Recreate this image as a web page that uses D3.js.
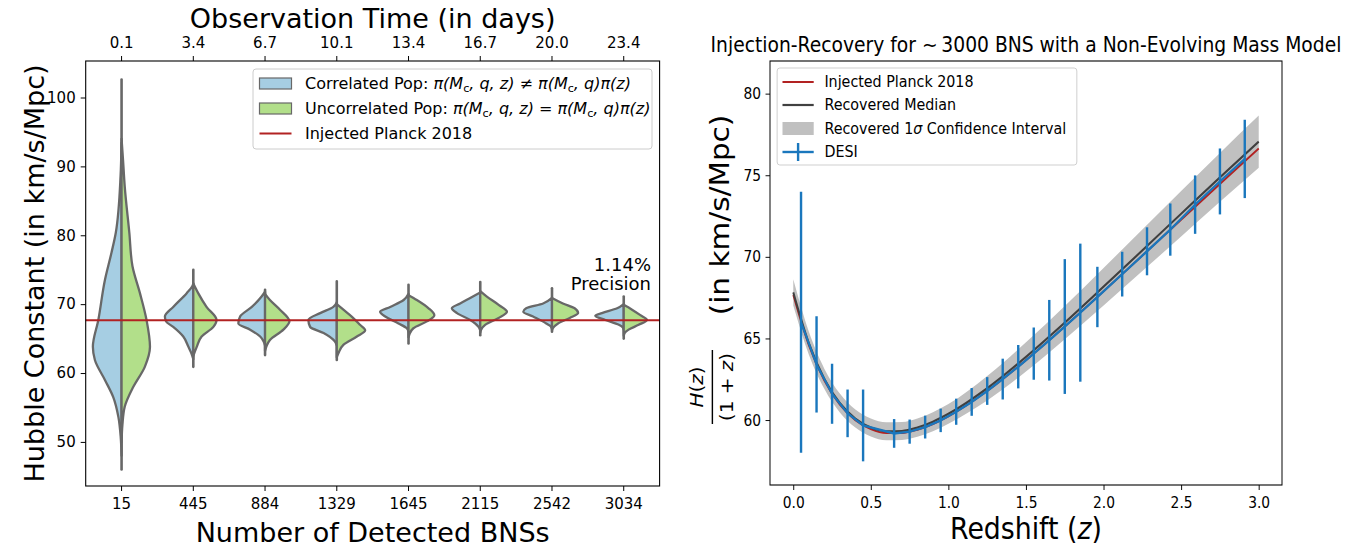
<!DOCTYPE html>
<html>
<head>
<meta charset="utf-8">
<script src="https://cdn.jsdelivr.net/npm/d3@7"></script>
<style>
  body { margin: 0; background: #fff; }
  svg text { font-family: "DejaVu Sans", sans-serif; fill: #000; }
</style>
</head>
<body>
<svg id="fig" width="1354" height="549"></svg>
<script>
// ---------- left panel: violins ----------
var bnsCounts = ["15", "445", "884", "1329", "1645", "2115", "2542", "3034"];
var obsDays = ["0.1", "3.4", "6.7", "10.1", "13.4", "16.7", "20.0", "23.4"];
var h0Ticks = [50, 60, 70, 80, 90, 100];
var planckH0 = 67.66;

// each half: [H0, relative density] from top to bottom
var corrHalf = [
  [[93.4,0],[88.6,0.035],[80.4,0.2],[77.5,0.35],[73.5,0.58],[67.7,0.81],[63.8,1.0],[61.9,0.93],[59.0,0.58],[56.5,0.29],[53.6,0.11],[50.7,0.03],[48,0]],
  [[73,0],[72.6,0.035],[71.6,0.23],[69.6,0.7],[68.2,0.99],[67.5,0.95],[66.7,0.7],[65.3,0.35],[63.8,0.17],[62.9,0.07],[62,0]],
  [[71.8,0],[71.1,0.12],[69.6,0.46],[68.2,0.87],[67.2,0.93],[66.3,0.52],[65.3,0.17],[64.6,0.05],[64,0]],
  [[70.3,0],[69.6,0.12],[68.7,0.58],[67.7,0.99],[66.7,0.93],[65.8,0.46],[64.6,0.07],[64,0]],
  [[71.5,0],[70.6,0.17],[69.6,0.64],[68.9,0.99],[68.2,0.81],[67.2,0.35],[66.5,0.06],[66,0]],
  [[71.7,0],[70.9,0.35],[70.1,0.7],[69.4,0.99],[68.7,0.81],[67.7,0.35],[66.7,0.06],[66.2,0]],
  [[70.9,0],[70.1,0.31],[69.4,0.9],[68.9,1.0],[68.2,0.66],[67.2,0.2],[66.8,0.05],[66.4,0]],
  [[70.0,0],[69.4,0.23],[68.7,0.76],[68.3,0.99],[67.7,0.64],[67.0,0.17],[66.6,0.03],[66.3,0]]
];
var uncorrHalf = [
  [[94,0],[91.0,0.05],[87.1,0.11],[80.4,0.27],[75.5,0.38],[71.6,0.64],[67.7,0.87],[63.8,0.99],[60.9,0.81],[58.0,0.41],[55.1,0.11],[52.5,0.03],[50,0]],
  [[73,0],[71.6,0.17],[69.6,0.46],[67.7,0.81],[66.7,0.7],[65.3,0.29],[63.8,0.12],[62.5,0]],
  [[71.5,0],[70.6,0.17],[69.2,0.52],[67.5,0.85],[66.3,0.64],[64.8,0.17],[64.0,0.06],[63.2,0]],
  [[70,0],[69.2,0.23],[68.2,0.52],[67.0,0.81],[66.2,0.99],[65.3,0.7],[64.1,0.23],[62.9,0.06],[62.3,0]],
  [[71.3,0],[70.6,0.29],[69.4,0.7],[68.4,0.9],[67.5,0.64],[66.5,0.17],[65.6,0.03],[65.2,0]],
  [[71.9,0],[71.1,0.23],[69.9,0.64],[68.9,0.93],[68.0,0.64],[67.0,0.17],[66.3,0.03],[65.9,0]],
  [[70.9,0],[70.1,0.38],[69.4,0.79],[68.7,0.91],[68.0,0.62],[67.2,0.21],[66.5,0.03],[66.2,0]],
  [[69.9,0],[69.2,0.29],[68.4,0.58],[67.7,0.81],[67.0,0.52],[66.3,0.17],[65.8,0.03],[65.4,0]]
];
var stickTop = [102.6, 75.0, 72.1, 73.3, 72.8, 73.2, 72.3, 71.1];
var stickBottom = [46.0, 60.9, 62.6, 61.9, 64.3, 65.5, 66.0, 65.0];

// ---------- right panel: H(z)/(1+z) ----------
var zGrid = [0, 0.1, 0.2, 0.3, 0.4, 0.5, 0.6, 0.7, 0.8, 0.9, 1.0, 1.25, 1.5, 1.75, 2.0, 2.25, 2.5, 2.75, 3.0];
var injectedH = [67.66, 64.59, 62.42, 60.94, 59.99, 59.44, 59.20, 59.21, 59.41, 59.76, 60.23, 61.78, 63.67, 65.73, 67.89, 70.08, 72.28, 74.47, 76.64];
var medianH = [67.82, 64.72, 62.53, 61.04, 60.09, 59.54, 59.31, 59.33, 59.54, 59.90, 60.38, 61.95, 63.87, 65.97, 68.17, 70.40, 72.64, 74.87, 77.06];
var bandLow = [67.02, 64.02, 61.91, 60.46, 59.54, 58.99, 58.76, 58.78, 58.98, 59.32, 59.78, 61.20, 62.97, 64.95, 67.02, 69.13, 71.24, 73.37, 75.46];
var bandHigh = [68.62, 65.42, 63.15, 61.62, 60.64, 60.09, 59.86, 59.88, 60.10, 60.48, 60.98, 62.70, 64.77, 66.99, 69.32, 71.67, 74.04, 76.37, 78.66];

var desiZ = [0.05, 0.15, 0.25, 0.35, 0.45, 0.65, 0.75, 0.85, 0.95, 1.05, 1.15, 1.25, 1.35, 1.45, 1.55, 1.65, 1.75, 1.85, 1.96, 2.12, 2.28, 2.43, 2.59, 2.75, 2.91];
var desiH = [65.99, 63.41, 61.61, 60.41, 59.67, 59.18, 59.29, 59.57, 59.98, 60.51, 61.11, 61.78, 62.51, 63.27, 64.07, 64.89, 65.73, 66.58, 67.54, 68.94, 70.34, 71.67, 73.2, 74.62, 76.0];
var desiErr = [8.0, 2.95, 1.84, 1.46, 2.2, 0.88, 0.74, 0.7, 0.72, 0.8, 0.85, 0.85, 1.25, 1.33, 1.6, 2.47, 4.13, 4.23, 1.85, 1.37, 1.47, 1.6, 1.79, 2.02, 2.4];
var zTicks = [0, 0.5, 1.0, 1.5, 2.0, 2.5, 3.0];
var hTicks = [60, 65, 70, 75, 80];

var corrColor = "#a6cee3", uncorrColor = "#b2df8a", edgeColor = "#686868";
var planckColor = "#b22222", medianColor = "#404040", bandColor = "#c0c0c0", desiColor = "#1a77bd";

var svg = d3.select("#fig");

function styleAxis(g, size) {
  g.select(".domain").remove();
  g.selectAll(".tick line").attr("stroke", "#000").attr("stroke-width", 1);
  g.selectAll(".tick text").attr("font-size", size).attr("font-family", "DejaVu Sans").attr("fill", "#000");
}

// small helper for text with italic / subscript pieces
function richText(sel, parts) {
  parts.forEach(function (p) {
    var t = sel.append("tspan").text(p.t);
    if (p.i) t.attr("font-style", "italic");
    if (p.sub) t.attr("font-size", "0.7em").attr("dy", p.sub);
    if (p.dy) t.attr("dy", p.dy);
  });
  return sel;
}

// ================= LEFT =================
var L = { left: 85.7, right: 659.6, top: 61, bottom: 486 };
var xL = d3.scaleBand().domain(bnsCounts).range([L.left, L.right]);
var yL = d3.scaleLinear().domain([43.6, 105.3]).range([L.bottom, L.top]);
var wL = d3.scaleLinear().domain([0, 1]).range([0, xL.bandwidth() * 0.4]);

function halfPath(cx, sign) {
  return d3.area().curve(d3.curveMonotoneY)
    .y(function (d) { return yL(d[0]); })
    .x0(cx)
    .x1(function (d) { return cx + sign * wL(d[1]); });
}

var violins = svg.append("g");
bnsCounts.forEach(function (c, i) {
  var cx = xL(c) + xL.bandwidth() / 2;
  violins.append("line")
    .attr("x1", cx).attr("x2", cx)
    .attr("y1", yL(stickTop[i])).attr("y2", yL(stickBottom[i]))
    .attr("stroke", edgeColor).attr("stroke-width", 2.6).attr("stroke-linecap", "round");
  violins.append("path").attr("d", halfPath(cx, -1)(corrHalf[i]))
    .attr("fill", corrColor).attr("stroke", edgeColor).attr("stroke-width", 2.3).attr("stroke-linejoin", "round");
  violins.append("path").attr("d", halfPath(cx, 1)(uncorrHalf[i]))
    .attr("fill", uncorrColor).attr("stroke", edgeColor).attr("stroke-width", 2.3).attr("stroke-linejoin", "round");
});

svg.append("line")
  .attr("x1", L.left).attr("x2", L.right)
  .attr("y1", yL(planckH0)).attr("y2", yL(planckH0))
  .attr("stroke", planckColor).attr("stroke-width", 2);

svg.append("g").attr("transform", "translate(0," + L.bottom + ")")
  .call(d3.axisBottom(xL).tickSize(5).tickPadding(7))
  .call(styleAxis, 15);
svg.append("g").attr("transform", "translate(0," + L.top + ")")
  .call(d3.axisTop(xL).tickSize(5).tickPadding(8).tickFormat(function (d, i) { return obsDays[i]; }))
  .call(styleAxis, 15);
svg.append("g").attr("transform", "translate(" + L.left + ",0)")
  .call(d3.axisLeft(yL).tickValues(h0Ticks).tickSize(5).tickPadding(5))
  .call(styleAxis, 15);

svg.append("rect").attr("x", L.left).attr("y", L.top)
  .attr("width", L.right - L.left).attr("height", L.bottom - L.top)
  .attr("fill", "none").attr("stroke", "#000").attr("stroke-width", 1.1);

svg.append("text").attr("x", (L.left + L.right) / 2).attr("y", 28)
  .attr("text-anchor", "middle").attr("font-size", 27).text("Observation Time (in days)");
svg.append("text").attr("x", (L.left + L.right) / 2).attr("y", 542)
  .attr("text-anchor", "middle").attr("font-size", 27).text("Number of Detected BNSs");
svg.append("text").attr("transform", "translate(44," + (L.top + L.bottom) / 2 + ") rotate(-90)")
  .attr("text-anchor", "middle").attr("font-size", 27).text("Hubble Constant (in km/s/Mpc)");

svg.append("text").attr("x", 651).attr("y", 271).attr("text-anchor", "end").attr("font-size", 18).text("1.14%");
svg.append("text").attr("x", 651).attr("y", 290).attr("text-anchor", "end").attr("font-size", 18).text("Precision");

// legend (left)
var legL = svg.append("g");
legL.append("rect").attr("x", 253).attr("y", 69).attr("width", 399).attr("height", 80).attr("rx", 3)
  .attr("fill", "#fff").attr("fill-opacity", 0.8).attr("stroke", "#cccccc");
var rowsL = [83.5, 108.5, 133.5];
legL.append("rect").attr("x", 259.5).attr("y", rowsL[0] - 5.5).attr("width", 32).attr("height", 11)
  .attr("fill", corrColor).attr("stroke", edgeColor).attr("stroke-width", 1.2);
legL.append("rect").attr("x", 259.5).attr("y", rowsL[1] - 5.5).attr("width", 32).attr("height", 11)
  .attr("fill", uncorrColor).attr("stroke", edgeColor).attr("stroke-width", 1.2);
legL.append("line").attr("x1", 259.5).attr("x2", 291.5).attr("y1", rowsL[2]).attr("y2", rowsL[2])
  .attr("stroke", planckColor).attr("stroke-width", 2);
richText(legL.append("text").attr("x", 305).attr("y", rowsL[0] + 5.5).attr("font-size", 16), [
  { t: "Correlated Pop: " }, { t: "\u03C0(M", i: true }, { t: "c", sub: 3 },
  { t: ", q, z) \u2260 \u03C0(M", i: true, dy: -3 }, { t: "c", sub: 3 }, { t: ", q)\u03C0(z)", i: true, dy: -3 }
]);
richText(legL.append("text").attr("x", 305).attr("y", rowsL[1] + 5.5).attr("font-size", 16), [
  { t: "Uncorrelated Pop: " }, { t: "\u03C0(M", i: true }, { t: "c", sub: 3 },
  { t: ", q, z) = \u03C0(M", i: true, dy: -3 }, { t: "c", sub: 3 }, { t: ", q)\u03C0(z)", i: true, dy: -3 }
]);
legL.append("text").attr("x", 305).attr("y", rowsL[2] + 5.5).attr("font-size", 16).text("Injected Planck 2018");

// ================= RIGHT =================
// drawn at the left panel's width, then squeezed to fit as in the reference
var RW = 574, R = { left: 770, right: 1282, top: 61, bottom: 485 };
var gR = svg.append("g").attr("transform", "translate(" + R.left + ",0) scale(" + ((R.right - R.left) / RW) + ",1)");
var xR = d3.scaleLinear().domain([-0.15, 3.15]).range([0, RW]);
var yR = d3.scaleLinear().domain([56.02, 82.0]).range([R.bottom, R.top]);

var curveRows = zGrid.map(function (z, i) {
  return { z: z, inj: injectedH[i], med: medianH[i], lo: bandLow[i], hi: bandHigh[i] };
});
gR.append("path").datum(curveRows)
  .attr("d", d3.area().curve(d3.curveMonotoneX)
    .x(function (d) { return xR(d.z); })
    .y0(function (d) { return yR(d.lo); })
    .y1(function (d) { return yR(d.hi); }))
  .attr("fill", bandColor);
gR.append("path").datum(curveRows)
  .attr("d", d3.line().curve(d3.curveMonotoneX)
    .x(function (d) { return xR(d.z); }).y(function (d) { return yR(d.inj); }))
  .attr("fill", "none").attr("stroke", planckColor).attr("stroke-width", 2);
gR.append("path").datum(curveRows)
  .attr("d", d3.line().curve(d3.curveMonotoneX)
    .x(function (d) { return xR(d.z); }).y(function (d) { return yR(d.med); }))
  .attr("fill", "none").attr("stroke", medianColor).attr("stroke-width", 2.2);

var desiRows = desiZ.map(function (z, i) { return { z: z, h: desiH[i], e: desiErr[i] }; });
gR.append("path").datum(desiRows)
  .attr("d", d3.line().x(function (d) { return xR(d.z); }).y(function (d) { return yR(d.h); }))
  .attr("fill", "none").attr("stroke", desiColor).attr("stroke-width", 2.4);
gR.selectAll(".ebar").data(desiRows).enter().append("line")
  .attr("x1", function (d) { return xR(d.z); }).attr("x2", function (d) { return xR(d.z); })
  .attr("y1", function (d) { return yR(d.h + d.e); }).attr("y2", function (d) { return yR(d.h - d.e); })
  .attr("stroke", desiColor).attr("stroke-width", 2.7);

gR.append("g").attr("transform", "translate(0," + R.bottom + ")")
  .call(d3.axisBottom(xR).tickValues(zTicks).tickFormat(d3.format(".1f")).tickSize(5).tickPadding(7))
  .call(styleAxis, 15.5);
gR.append("g")
  .call(d3.axisLeft(yR).tickValues(hTicks).tickSize(5).tickPadding(5))
  .call(styleAxis, 15.5);
gR.append("rect").attr("x", 0).attr("y", R.top).attr("width", RW).attr("height", R.bottom - R.top)
  .attr("fill", "none").attr("stroke", "#000").attr("stroke-width", 1.1);

gR.append("text").attr("x", RW / 2).attr("y", 52).attr("text-anchor", "middle").attr("font-size", 21)
  .text("Injection-Recovery for  \u223C\u20093000 BNS with a Non-Evolving Mass Model");
richText(gR.append("text").attr("x", RW / 2).attr("y", 539).attr("text-anchor", "middle").attr("font-size", 30),
  [{ t: "Redshift (" }, { t: "z", i: true }, { t: ")" }]);

// y label: fraction + units
gR.append("text").attr("transform", "translate(-56,215) rotate(-90)")
  .attr("text-anchor", "middle").attr("dy", "0.35em").attr("font-size", 29.5).text("(in km/s/Mpc)");
var frac = gR.append("g").attr("transform", "translate(-64.6,387) rotate(-90)");
frac.append("line").attr("x1", -37).attr("x2", 37).attr("stroke", "#000").attr("stroke-width", 1.6);
richText(frac.append("text").attr("y", -11).attr("text-anchor", "middle").attr("font-size", 20),
  [{ t: "H", i: true }, { t: "(" }, { t: "z", i: true }, { t: ")" }]);
richText(frac.append("text").attr("y", 22.6).attr("text-anchor", "middle").attr("font-size", 20),
  [{ t: "(1 + " }, { t: "z", i: true }, { t: ")" }]);

// legend (right)
var legR = gR.append("g");
legR.append("rect").attr("x", 8).attr("y", 68).attr("width", 336).attr("height", 97).attr("rx", 3)
  .attr("fill", "#fff").attr("fill-opacity", 0.8).attr("stroke", "#cccccc");
var rowsR = [82, 105, 128.5, 152];
legR.append("line").attr("x1", 14).attr("x2", 49).attr("y1", rowsR[0]).attr("y2", rowsR[0])
  .attr("stroke", planckColor).attr("stroke-width", 2);
legR.append("line").attr("x1", 14).attr("x2", 49).attr("y1", rowsR[1]).attr("y2", rowsR[1])
  .attr("stroke", medianColor).attr("stroke-width", 2.2);
legR.append("rect").attr("x", 14).attr("y", rowsR[2] - 6.5).attr("width", 35).attr("height", 13)
  .attr("fill", bandColor);
legR.append("line").attr("x1", 14).attr("x2", 49).attr("y1", rowsR[3]).attr("y2", rowsR[3])
  .attr("stroke", desiColor).attr("stroke-width", 2.4);
legR.append("line").attr("x1", 31.5).attr("x2", 31.5).attr("y1", rowsR[3] - 9).attr("y2", rowsR[3] + 9)
  .attr("stroke", desiColor).attr("stroke-width", 2.7);
legR.append("text").attr("x", 61).attr("y", rowsR[0] + 5.5).attr("font-size", 16).text("Injected Planck 2018");
legR.append("text").attr("x", 61).attr("y", rowsR[1] + 5.5).attr("font-size", 16).text("Recovered Median");
richText(legR.append("text").attr("x", 61).attr("y", rowsR[2] + 5.5).attr("font-size", 16),
  [{ t: "Recovered 1" }, { t: "\u03C3", i: true }, { t: " Confidence Interval" }]);
legR.append("text").attr("x", 61).attr("y", rowsR[3] + 5.5).attr("font-size", 16).text("DESI");
</script>
</body>
</html>
